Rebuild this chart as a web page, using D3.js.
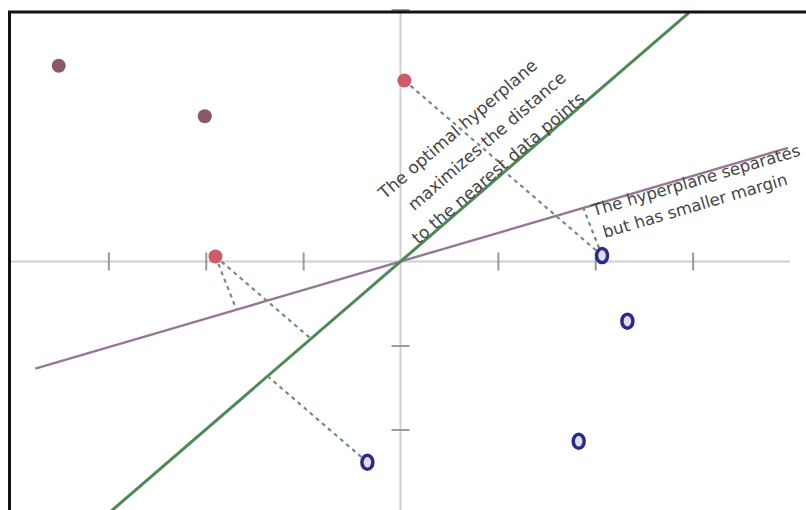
<!DOCTYPE html>
<html>
<head>
<meta charset="utf-8">
<script src="https://cdn.jsdelivr.net/npm/d3@7"></script>
<style>
  html, body { margin: 0; padding: 0; background: #fff; }
  svg { display: block; }
</style>
</head>
<body>
<svg id="chart" width="806" height="510"></svg>
<script>
// Training points of the two classes (x, y)
const classA = [[-3.51, 2.33], [-2.01, 1.73], [0.04, 2.155], [-1.90, 0.06]];
const classB = [[2.07, 0.07], [2.33, -0.71], [1.83, -2.14], [-0.34, -2.39]];

// Two separating lines through the origin, y = slope * x, and their drawn x-extent
const optimalSlope = 1.0;
const optimalSpan = [-3.1, 2.96];
const weakSlope = 0.34;
const weakSpan = [-3.75, 3.98];

const xTicks = [-3, -2, -1, 1, 2, 3];
const yTicks = [-3, -2, -1, 3];

const optimalLabel = ["The optimal hyperplane", "maximizes the distance", "to the nearest data points"];
const weakLabel = ["The hyperplane separates", "but has smaller margin"];

const svg = d3.select("#chart");
const x = d3.scaleLinear().domain([-4, 4]).range([11, 790]);
const y = d3.scaleLinear().domain([-3, 3]).range([513.5, 9.5]);
const x0 = x(0), y0 = y(0);

// ---- coordinate axes through the origin ----
svg.append("line")
  .attr("x1", x(-4)).attr("x2", x(4)).attr("y1", y0).attr("y2", y0)
  .attr("stroke", "#cfcfcf").attr("stroke-width", 2);
svg.append("line")
  .attr("x1", x0).attr("x2", x0).attr("y1", y(3)).attr("y2", y(-3.2))
  .attr("stroke", "#cfcfcf").attr("stroke-width", 2);

const tickLen = 18;
const xAxis = svg.append("g")
  .attr("transform", `translate(0,${y0 - tickLen / 2})`)
  .call(d3.axisBottom(x).tickValues(xTicks).tickSize(tickLen).tickFormat(""));
const yAxis = svg.append("g")
  .attr("transform", `translate(${x0 + tickLen / 2},0)`)
  .call(d3.axisLeft(y).tickValues(yTicks).tickSize(tickLen).tickFormat(""));
[xAxis, yAxis].forEach(g => {
  g.select(".domain").remove();
  g.selectAll(".tick line").attr("stroke", "#9a9a9a").attr("stroke-width", 2);
});

// ---- separating lines ----
const lineGen = d3.line().x(d => x(d[0])).y(d => y(d[1]));
function linePoints(m, span) { return span.map(t => [t, m * t]); }

svg.append("path")
  .attr("d", lineGen(linePoints(weakSlope, weakSpan)))
  .attr("stroke", "#957895").attr("stroke-width", 2.4).attr("fill", "none");
svg.append("path")
  .attr("d", lineGen(linePoints(optimalSlope, optimalSpan)))
  .attr("stroke", "#4f8756").attr("stroke-width", 3).attr("fill", "none");

// ---- distances to a line y = m x, and the nearest points (margin) ----
function dist(p, m) { return Math.abs(m * p[0] - p[1]) / Math.sqrt(1 + m * m); }
function foot(p, m) { const t = (p[0] + m * p[1]) / (1 + m * m); return [t, m * t]; }
function marginPoints(m, tol) {
  const all = classA.concat(classB);
  const dmin = d3.min(all, p => dist(p, m));
  return all.filter(p => dist(p, m) <= dmin * tol);
}
const optimalSV = marginPoints(optimalSlope, 1.2);
const weakSV = marginPoints(weakSlope, 1.2);

const dashes = svg.append("g")
  .attr("stroke", "#6f8f7f").attr("stroke-width", 2.2)
  .attr("stroke-dasharray", "4,4").attr("fill", "none");
[[optimalSV, optimalSlope], [weakSV, weakSlope]].forEach(([pts, m]) => {
  pts.forEach(p => {
    const f = foot(p, m);
    dashes.append("line")
      .attr("x1", x(p[0])).attr("y1", y(p[1]))
      .attr("x2", x(f[0])).attr("y2", y(f[1]));
  });
});

// ---- labels running along each line ----
function labelAlong(lines, m, params, size) {
  const dx = x(1) - x0, dy = y(m) - y0;
  const a = Math.atan2(dy, dx);
  const deg = a * 180 / Math.PI;
  const nx = -Math.sin(a), ny = Math.cos(a);
  lines.forEach((txt, i) => {
    const [t, off] = params[i];
    const px = x(t) + off * nx, py = y(m * t) + off * ny;
    svg.append("text")
      .attr("transform", `translate(${px},${py}) rotate(${deg})`)
      .attr("text-anchor", "middle")
      .attr("font-family", "DejaVu Sans, sans-serif")
      .attr("font-size", size)
      .attr("fill", "#454545")
      .text(txt);
  });
}
labelAlong(optimalLabel, optimalSlope, [[1.01, -57], [1.12, -29], [1.05, -1]], 17);
labelAlong(weakLabel, weakSlope, [[3.02, 11], [2.94, 35]], 16.5);

// ---- data points ----
const isSV = p => optimalSV.includes(p);
svg.append("g").selectAll("circle").data(classA).join("circle")
  .attr("cx", d => x(d[0])).attr("cy", d => y(d[1])).attr("r", 7)
  .attr("fill", d => isSV(d) ? "#cf5a6a" : "#8a5868");
svg.append("g").selectAll("ellipse").data(classB).join("ellipse")
  .attr("cx", d => x(d[0])).attr("cy", d => y(d[1]))
  .attr("rx", 5.5).attr("ry", 7)
  .attr("fill", "#dedef4").attr("stroke", "#2c2c86").attr("stroke-width", 3.5);

// ---- frame (top and left edges) ----
svg.append("path")
  .attr("d", "M9.5,520 V12 H820")
  .attr("stroke", "#111").attr("stroke-width", 3).attr("fill", "none");
</script>
</body>
</html>
